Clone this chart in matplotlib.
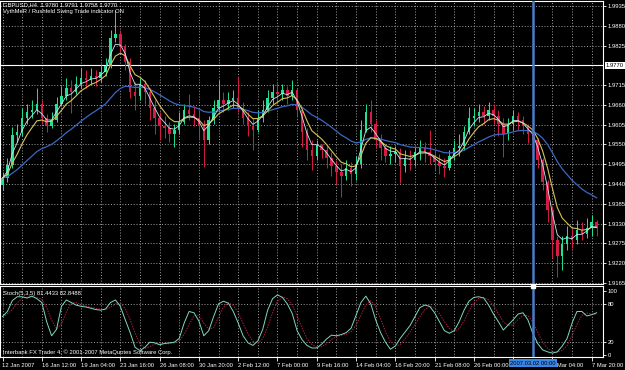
import numpy as np
import pandas as pd
import matplotlib
matplotlib.use("Agg")
import matplotlib.pyplot as plt

# GBPUSD candles (one candle per 8 hours of the original H4 chart), open = previous close
first_open = 1.9437
closes = [1.9457, 1.9493, 1.9576, 1.9585, 1.9624, 1.9640, 1.9646, 1.9663, 1.9624, 1.9601,
          1.9618, 1.9663, 1.9685, 1.9707, 1.9696, 1.9718, 1.9735, 1.9729, 1.9740, 1.9735,
          1.9752, 1.9768, 1.9846, 1.9857, 1.9824, 1.9779, 1.9696, 1.9685, 1.9718, 1.9696,
          1.9651, 1.9624, 1.9601, 1.9596, 1.9579, 1.9590, 1.9613, 1.9646, 1.9635, 1.9624,
          1.9601, 1.9563, 1.9618, 1.9651, 1.9674, 1.9663, 1.9674, 1.9679, 1.9651, 1.9624,
          1.9601, 1.9590, 1.9624, 1.9646, 1.9679, 1.9696, 1.9690, 1.9702, 1.9685, 1.9702,
          1.9646, 1.9585, 1.9535, 1.9518, 1.9549, 1.9535, 1.9512, 1.9490, 1.9474, 1.9462,
          1.9485, 1.9468, 1.9496, 1.9590, 1.9640, 1.9607, 1.9563, 1.9540, 1.9518, 1.9524,
          1.9529, 1.9490, 1.9512, 1.9507, 1.9529, 1.9540, 1.9529, 1.9518, 1.9501, 1.9490,
          1.9485, 1.9518, 1.9540, 1.9546, 1.9585, 1.9624, 1.9629, 1.9640, 1.9629, 1.9646,
          1.9629, 1.9607, 1.9579, 1.9607, 1.9629, 1.9618, 1.9601, 1.9579, 1.9563, 1.9507,
          1.9446, 1.9368, 1.9285, 1.9240, 1.9273, 1.9296, 1.9285, 1.9312, 1.9301, 1.9318,
          1.9335, 1.9318]
highs = [1.9474, 1.9512, 1.9599, 1.9607, 1.9651, 1.9663, 1.9674, 1.9707, 1.9674, 1.9635,
         1.9640, 1.9682, 1.9713, 1.9735, 1.9729, 1.9740, 1.9763, 1.9757, 1.9763, 1.9757,
         1.9774, 1.9790, 1.9868, 1.9924, 1.9868, 1.9829, 1.9790, 1.9724, 1.9735, 1.9729,
         1.9707, 1.9674, 1.9640, 1.9629, 1.9613, 1.9607, 1.9640, 1.9663, 1.9690, 1.9657,
         1.9646, 1.9618, 1.9629, 1.9674, 1.9729, 1.9696, 1.9696, 1.9702, 1.9738, 1.9668,
         1.9640, 1.9624, 1.9646, 1.9674, 1.9702, 1.9718, 1.9721, 1.9718, 1.9713, 1.9729,
         1.9707, 1.9651, 1.9596, 1.9563, 1.9563, 1.9551, 1.9546, 1.9529, 1.9507, 1.9496,
         1.9507, 1.9501, 1.9518, 1.9618, 1.9663, 1.9674, 1.9618, 1.9579, 1.9551, 1.9546,
         1.9546, 1.9540, 1.9535, 1.9535, 1.9546, 1.9563, 1.9557, 1.9590, 1.9535, 1.9524,
         1.9512, 1.9535, 1.9563, 1.9579, 1.9601, 1.9654, 1.9651, 1.9663, 1.9657, 1.9668,
         1.9663, 1.9646, 1.9624, 1.9624, 1.9646, 1.9640, 1.9629, 1.9607, 1.9596, 1.9568,
         1.9512, 1.9451, 1.9379, 1.9296, 1.9296, 1.9323, 1.9318, 1.9340, 1.9335, 1.9346,
         1.9354, 1.9340]
lows = [1.9424, 1.9446, 1.9485, 1.9557, 1.9574, 1.9607, 1.9624, 1.9635, 1.9607, 1.9585,
        1.9596, 1.9613, 1.9657, 1.9674, 1.9638, 1.9690, 1.9707, 1.9707, 1.9718, 1.9713,
        1.9724, 1.9740, 1.9763, 1.9835, 1.9807, 1.9757, 1.9679, 1.9646, 1.9674, 1.9663,
        1.9618, 1.9579, 1.9563, 1.9568, 1.9557, 1.9543, 1.9579, 1.9607, 1.9618, 1.9601,
        1.9563, 1.9487, 1.9551, 1.9607, 1.9640, 1.9640, 1.9646, 1.9651, 1.9640, 1.9607,
        1.9574, 1.9535, 1.9585, 1.9613, 1.9640, 1.9663, 1.9663, 1.9674, 1.9663, 1.9674,
        1.9629, 1.9543, 1.9507, 1.9479, 1.9507, 1.9512, 1.9485, 1.9462, 1.9440, 1.9404,
        1.9451, 1.9435, 1.9451, 1.9485, 1.9585, 1.9585, 1.9540, 1.9507, 1.9501, 1.9496,
        1.9501, 1.9443, 1.9474, 1.9479, 1.9490, 1.9507, 1.9501, 1.9496, 1.9479, 1.9468,
        1.9460, 1.9479, 1.9507, 1.9518, 1.9535, 1.9579, 1.9601, 1.9613, 1.9607, 1.9618,
        1.9607, 1.9574, 1.9515, 1.9563, 1.9590, 1.9590, 1.9579, 1.9554, 1.9540, 1.9485,
        1.9424, 1.9335, 1.9234, 1.9182, 1.9201, 1.9257, 1.9262, 1.9273, 1.9285, 1.9290,
        1.9296, 1.9296]

# Stochastic main line
stoch_main = [60, 68, 85, 91, 91, 89, 92, 88, 82, 52,
              30, 40, 76, 86, 82, 78, 76, 75, 73, 71,
              70, 72, 82, 86, 76, 55, 35, 12, 7, 12,
              20, 19, 16, 18, 19, 20, 26, 50, 68, 66,
              53, 30, 38, 60, 80, 84, 81, 68, 50, 30,
              19, 15, 22, 40, 70, 88, 94, 90, 80, 65,
              38, 24, 15, 11, 11, 17, 25, 31, 30, 32,
              35, 42, 62, 82, 92, 80, 55, 35, 20, 9,
              14, 26, 36, 46, 60, 74, 78, 76, 66, 52,
              38, 34, 38, 52, 70, 84, 90, 91, 89, 78,
              64, 52, 39, 47, 55, 64, 66, 55, 34, 18,
              8, 5, 3, 5, 14, 26, 50, 68, 68, 61,
              63, 66]

price_ticks = [1.9165, 1.9220, 1.9275, 1.9330, 1.9385, 1.9440, 1.9495, 1.9550,
               1.9605, 1.9660, 1.9715, 1.9770, 1.9825, 1.9880, 1.9935]
price_line = 1.9770
stoch_ticks = [0, 20, 80, 100]
stoch_levels = [20, 80]
# the 14th label sits under the cursor's date box, so it is left blank
time_labels = ["12 Jan 2007", "16 Jan 12:00", "19 Jan 04:00", "23 Jan 16:00",
               "26 Jan 08:00", "30 Jan 20:00", "2 Feb 12:00", "7 Feb 00:00",
               "9 Feb 16:00", "14 Feb 04:00", "16 Feb 20:00", "21 Feb 08:00",
               "26 Feb 00:00", "", "5 Mar 04:00", "7 Mar 20:00"]
cursor_bar = 108
cursor_label = "2007.03.02 00:00"
header1 = "GBPUSD,H4  1.9780 1.9791 1.9758 1.9770"
header2 = "VythMeR / Rushfeld Swing Trade indicator ON"
stoch_title = "Stoch(5,3,5) 81.4433 82.8488"
copyright_txt = "Interbank FX Trader 4, \u00a9 2001-2007 MetaQuotes Software Corp."

plt.rcParams['font.family'] = ['Liberation Sans', 'DejaVu Sans']
FS = 4.2
GRID = "#b4b4b4"
BULL = "#22e096"
BEAR = "#d41c46"

W, H = 625, 370
BAR_PX = 4.91
X0_PX = 2.5
n = len(closes)
idx = np.arange(n)

fig = plt.figure(figsize=(W / 100, H / 100), dpi=100, facecolor="black")

def panel(top, bottom, right=603):
    a = fig.add_axes([0, 1 - bottom / H, right / W, (bottom - top) / H])
    a.set_facecolor("black")
    for s in a.spines.values():
        s.set_color("white")
        s.set_linewidth(0.8)
    a.set_xlim(-X0_PX / BAR_PX, (right - X0_PX) / BAR_PX)
    return a

ax = panel(1, 284)
ax.set_ylim(1.91622, 1.99489)
st = panel(286, 357)
st.set_ylim(-3.1, 107.8)

dots = (0, (1.2, 2.2))
for p in price_ticks:
    ax.axhline(p, color=GRID, ls=dots, lw=0.6, zorder=0)
for v in stoch_levels:
    st.axhline(v, color=GRID, ls=dots, lw=0.6, zorder=0)
for i in range(0, n, 4):
    ax.axvline(i, color=GRID, ls=dots, lw=0.6, zorder=0)
    st.axvline(i, color=GRID, ls=dots, lw=0.6, zorder=0)

# candles
c = np.array(closes)
o = np.array([first_open] + closes[:-1])
colors = np.where(c >= o, BULL, BEAR)
ax.vlines(idx, lows, highs, colors=colors, lw=0.7, zorder=2)
ax.bar(idx, np.maximum(np.abs(c - o), 0.0001), bottom=np.minimum(o, c), width=0.5,
       color=colors, lw=0, zorder=3)

# moving averages
s = pd.Series(closes)
ax.plot(idx, s.ewm(span=22, adjust=False).mean(), color="#3a68c4", lw=0.9, zorder=4)
ax.plot(idx, s.ewm(span=6, adjust=False).mean(), color="#d6c45a", lw=0.8, zorder=4)
ax.plot(idx, s.ewm(span=3, adjust=False).mean(), color="#cfe6ee", lw=0.6, zorder=4)

ax.axhline(price_line, color="white", lw=0.8, zorder=1.5)

ax.yaxis.tick_right()
shown = [p for p in price_ticks if p != price_line]
ax.set_yticks(shown)
ax.set_yticklabels(["%.4f" % p for p in shown])
ax.tick_params(axis="y", colors="white", labelsize=FS, length=2, width=0.6, pad=1.2)
ax.set_xticks([])
ax.text(1.005, price_line, "%.4f" % price_line, transform=ax.get_yaxis_transform(),
        ha="left", va="center", fontsize=FS, color="black", clip_on=False,
        bbox=dict(boxstyle="square,pad=0.12", fc="white", ec="none"))

# stochastic panel
sig = pd.Series(stoch_main).rolling(3, min_periods=1).mean()
st.plot(idx, sig, color="#a8203c", lw=0.7, ls=(0, (1.5, 1.2)), zorder=2)
st.plot(idx, stoch_main, color="#7fd6c2", lw=0.7, zorder=3)
st.yaxis.tick_right()
st.set_yticks(stoch_ticks)
st.set_yticklabels([str(v) for v in stoch_ticks])
st.tick_params(axis="y", colors="white", labelsize=FS, length=2, width=0.6, pad=1.2)
st.set_xticks(range(0, 8 * len(time_labels), 8))
st.set_xticklabels(time_labels, ha="left")
st.tick_params(axis="x", colors="white", labelsize=FS, length=3, width=0.6, pad=1)

# vertical cursor line
for a in (ax, st):
    a.axvline(cursor_bar, color="#4a7cc8", lw=1.8, zorder=5)
st.plot([cursor_bar], [1.0], marker="s", ms=2.2, color="white",
        transform=st.get_xaxis_transform(), clip_on=False, zorder=6)
st.text(cursor_bar, -0.085, cursor_label, transform=st.get_xaxis_transform(),
        ha="center", va="center", fontsize=FS, color="black", clip_on=False, zorder=10,
        bbox=dict(boxstyle="square,pad=0.25", fc="#3a86e6", ec="none"))

fig.text(3 / W, 1 - 5 / H, header1, color="white", fontsize=FS, va="center")
fig.text(3 / W, 1 - 12 / H, header2, color="white", fontsize=FS, va="center")
fig.text(3 / W, 1 - 293 / H, stoch_title, color="white", fontsize=FS, va="center")
fig.text(3 / W, 1 - 352 / H, copyright_txt, color="white", fontsize=FS, va="center")

fig.savefig("out.png", dpi=100, facecolor="black")
